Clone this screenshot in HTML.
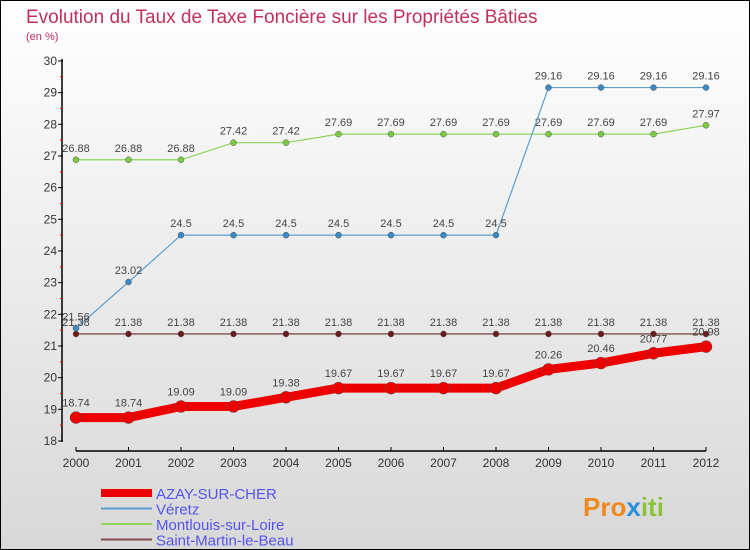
<!DOCTYPE html>
<html><head><meta charset="utf-8"><style>
body{margin:0}
#c{width:748px;height:548px;border:1px solid #000;background:linear-gradient(#fff,#d8d8d8);position:relative;overflow:hidden;font-family:"Liberation Sans",sans-serif}
</style></head><body>
<div id="c">
<svg id="s" width="748" height="548" xmlns="http://www.w3.org/2000/svg" style="position:absolute;left:0;top:0">
<text x="25" y="22" font-size="19" fill="#c0305a" font-family="Liberation Sans,sans-serif">Evolution du Taux de Taxe Foncière sur les Propriétés Bâties</text>
<text x="25" y="39" font-size="11" fill="#c0305a">(en %)</text>
<g id="axes"></g><g id="series"></g><g id="legend"></g>
<text x="582" y="515" font-size="26" font-weight="bold" fill="#f08a20">Pro<tspan fill="#2a8fd8">x</tspan><tspan fill="#8ac43a">iti</tspan></text>
</svg>
</div>
<script>
const years=[2000,2001,2002,2003,2004,2005,2006,2007,2008,2009,2010,2011,2012];
const azay=[18.74,18.74,19.09,19.09,19.38,19.67,19.67,19.67,19.67,20.26,20.46,20.77,20.98];
const veretz=[21.56,23.02,24.5,24.5,24.5,24.5,24.5,24.5,24.5,29.16,29.16,29.16,29.16];
const montlouis=[26.88,26.88,26.88,27.42,27.42,27.69,27.69,27.69,27.69,27.69,27.69,27.69,27.97];
const stmartin=[21.38,21.38,21.38,21.38,21.38,21.38,21.38,21.38,21.38,21.38,21.38,21.38,21.38];
const yTicks=[18,19,20,21,22,23,24,25,26,27,28,29,30];
const NS="http://www.w3.org/2000/svg";
const X=i=>75+i*52.5, Y=v=>440-(v-18)*31.67;
function mk(t,a,p){const e=document.createElementNS(NS,t);for(const k in a)e.setAttribute(k,a[k]);p.appendChild(e);return e;}
const ax=document.getElementById('axes');
let l=mk('line',{x1:61,y1:58,x2:61,y2:441,stroke:'#000','stroke-width':1.5},ax);


l=mk('line',{x1:75,y1:450,x2:705,y2:450,stroke:'#000','stroke-width':1.5},ax);


yTicks.forEach(v=>{
  mk('line',{x1:57,y1:Y(v),x2:62,y2:Y(v),stroke:'#000'},ax);
  if(v<30)mk('line',{x1:59,y1:Y(v+0.5),x2:62,y2:Y(v+0.5),stroke:'#e00'},ax);
  const t=mk('text',{x:56,y:Y(v)+4,'font-size':12,'text-anchor':'end',fill:'#333'},ax);t.textContent=v;
  
  
});
years.forEach((y,i)=>{
  mk('line',{x1:X(i),y1:446,x2:X(i),y2:450,stroke:'#000'},ax);
  const t=mk('text',{x:X(i),y:466,'font-size':12,'text-anchor':'middle',fill:'#333'},ax);t.textContent=y;
  
  
});
const sg=document.getElementById('series');
function draw(vals,col,dot,w,r,name){
  const g=mk('g',{},sg);
  
  
  mk('polyline',{points:vals.map((v,i)=>X(i)+','+Y(v)).join(' '),fill:'none',stroke:col,'stroke-width':w,'stroke-linejoin':'round'},g);
  vals.forEach((v,i)=>{
    const c=mk('circle',{cx:X(i),cy:Y(v),r:r,fill:dot,stroke:'#555','stroke-width':0.5},g);
    
    
    const t=mk('text',{x:X(i),y:Y(v)-(r+5),'font-size':11,'text-anchor':'middle',fill:'#444'},g);t.textContent=v;
    
    
  });
}
draw(montlouis,'#8cd45a','#7ccc40',1.2,3,'montlouis');
draw(veretz,'#5a9ed0','#3a8ac8',1.2,3,'veretz');
draw(stmartin,'#6a2a2a','#6a1a1a',1.2,3,'saint-martin');
draw(azay,'#ee0000','#ee0000',9,6,'azay');
const lg=document.getElementById('legend');
const items=[['AZAY-SUR-CHER','#ee0000',8],['Véretz','#5a9ed0',2],['Montlouis-sur-Loire','#8cd45a',2],['Saint-Martin-le-Beau','#8a4a4a',2]];
items.forEach((it,i)=>{
  const y=492+i*15.5;
  const g=mk('g',{},lg);
  
  
  mk('line',{x1:100,y1:y,x2:151,y2:y,stroke:it[1],'stroke-width':it[2]},g);
  const t=mk('text',{x:155,y:y+6,'font-size':15,fill:'#5555ee'},g);t.textContent=it[0];
});
</script>
</body></html>
